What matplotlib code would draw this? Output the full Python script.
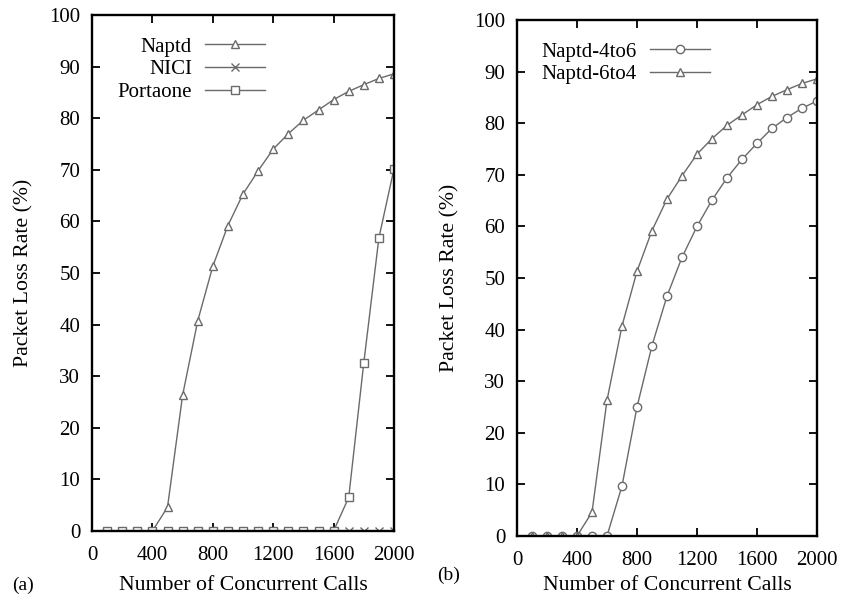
import matplotlib
matplotlib.use("Agg")
import matplotlib.pyplot as plt

plt.rcParams['font.family'] = ['Liberation Serif', 'DejaVu Serif']

calls = [100, 200, 300, 400, 500, 600, 700, 800, 900, 1000,
         1100, 1200, 1300, 1400, 1500, 1600, 1700, 1800, 1900, 2000]

naptd = [0, 0, 0, 0, 4.6, 26.3, 40.7, 51.3, 59.2, 65.3,
         69.8, 74.0, 77.0, 79.6, 81.6, 83.6, 85.2, 86.5, 87.7, 88.6]
nici = [0] * 20
portaone = [0, 0, 0, 0, 0, 0, 0, 0, 0, 0,
            0, 0, 0, 0, 0, 0, 6.5, 32.6, 56.8, 70.2]

naptd_4to6 = [0, 0, 0, 0, 0, 0, 9.7, 25.0, 36.9, 46.5,
              54.0, 60.0, 65.1, 69.4, 73.0, 76.1, 79.0, 81.1, 82.9, 84.3]
naptd_6to4 = naptd

xticks = [0, 400, 800, 1200, 1600, 2000]
yticks = list(range(0, 101, 10))

LC = '#6a6a6a'
FS = 15

fig = plt.figure(figsize=(8.44, 6.0), dpi=100)
axA = fig.add_axes([92/844, 1-531/600, 302/844, 516/600])
axB = fig.add_axes([517/844, 1-536/600, 300/844, 516/600])

def style(ax, ylx, xlpad):
    ax.set_xlim(0, 2000)
    ax.set_ylim(0, 100)
    ax.set_xticks(xticks)
    ax.set_yticks(yticks)
    ax.tick_params(direction='in', length=6, width=1.3, top=True, right=True,
                   labelsize=FS)
    ax.tick_params(axis='x', pad=11)
    ax.tick_params(axis='y', pad=8.5)
    for s in ax.spines.values():
        s.set_linewidth(1.7)
    ax.set_xlabel('Number of Concurrent Calls', fontsize=FS + 0.7, labelpad=xlpad)
    ax.set_ylabel('Packet Loss Rate (%)', fontsize=FS + 0.7)
    ax.yaxis.set_label_coords(ylx, 0.5)

kw = dict(color=LC, lw=1.0, mfc='white', mec=LC, mew=1.0)
lkw = dict(frameon=False, markerfirst=False, handlelength=2.9, fontsize=FS,
           labelspacing=0.15, borderaxespad=0, borderpad=0, handletextpad=0.6,
           loc='upper right', bbox_transform=fig.transFigure)

axA.plot(calls, naptd, marker='^', ms=5.5, label='Naptd', **kw)
axA.plot(calls, nici, marker='x', ms=5.5, label='NICI', **kw)
axA.plot(calls, portaone, marker='s', ms=6, label='Portaone', **kw)
style(axA, -0.193, 8)
axA.legend(bbox_to_anchor=(265/844, 1-37/600), **lkw)

axB.plot(calls, naptd_4to6, marker='o', ms=6, label='Naptd-4to6', **kw)
axB.plot(calls, naptd_6to4, marker='^', ms=5.5, label='Naptd-6to4', **kw)
style(axB, -0.193, 4)
axB.legend(bbox_to_anchor=(710/844, 1-42/600), **lkw)

fig.text(12/844, 1-585/600, '(a)', fontsize=FS - 1, va='center', ha='left')
fig.text(437/844, 1-575/600, '(b)', fontsize=FS - 1, va='center', ha='left')

fig.savefig('out.png', dpi=100)
